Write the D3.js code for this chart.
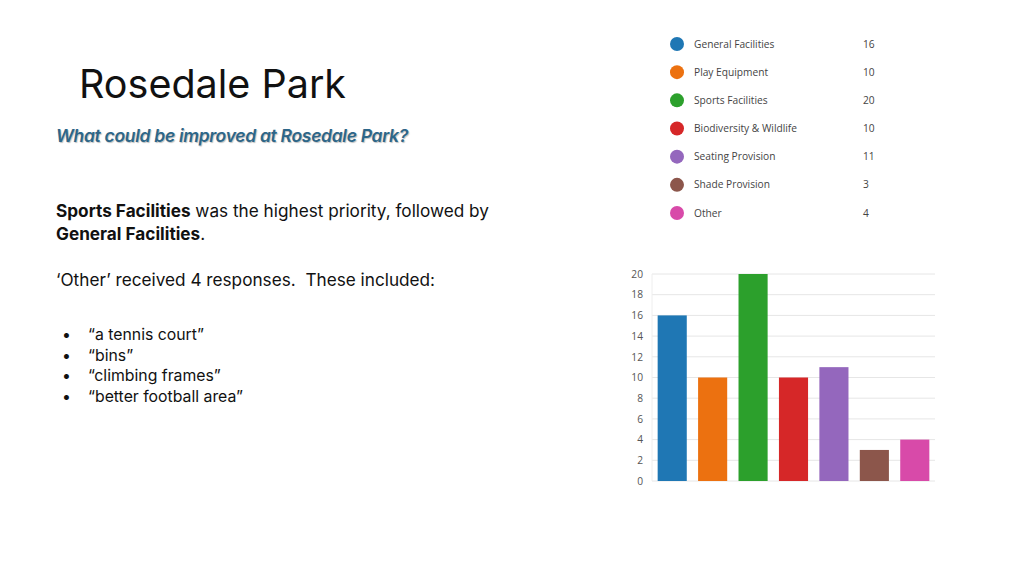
<!DOCTYPE html>
<html>
<head>
<meta charset="utf-8">
<script src="https://cdn.jsdelivr.net/npm/d3@7"></script>
<style>
  html, body { margin: 0; padding: 0; background: #fff; }
  svg { display: block; }
  text { white-space: pre; }
</style>
</head>
<body>
<svg id="slide"></svg>
<script>
// data
const categories = ['General Facilities', 'Play Equipment', 'Sports Facilities', 'Biodiversity & Wildlife', 'Seating Provision', 'Shade Provision', 'Other'];
const responses = [16, 10, 20, 10, 11, 3, 4];
const barColors = ['#1f77b4', '#ec7110', '#2ca02c', '#d62728', '#9467bd', '#8c564b', '#d84aa9'];
const yTicks = [0, 2, 4, 6, 8, 10, 12, 14, 16, 18, 20];
const otherReplies = ['“a tennis court”', '“bins”', '“climbing frames”', '“better football area”'];

const width = 1024, height = 576;
const svg = d3.select('#slide').attr('width', width).attr('height', height);
const font = 'Inter, "Liberation Sans", sans-serif';

// title + subtitle
svg.append('text')
  .attr('x', 79).attr('y', 98)
  .attr('font-family', font).attr('font-size', 39.5)
  .attr('fill', '#111')
  .text('Rosedale Park');

svg.append('text')
  .attr('x', 56).attr('y', 142)
  .attr('font-family', font).attr('font-size', 17.5)
  .attr('font-style', 'italic').attr('font-weight', 600)
  .attr('letter-spacing', -0.3)
  .attr('fill', '#2d6688')
  .style('text-shadow', '1px 1px 1px rgba(0,0,0,0.25)')
  .text('What could be improved at Rosedale Park?');

// body text
const body = svg.append('g').attr('font-family', font).attr('font-size', 17.2).attr('fill', '#111');
const l1 = body.append('text').attr('x', 56).attr('y', 217);
l1.append('tspan').attr('font-weight', 700).text('Sports Facilities');
l1.append('tspan').text(' was the highest priority, followed by');
const l2 = body.append('text').attr('x', 56).attr('y', 240);
l2.append('tspan').attr('font-weight', 700).text('General Facilities');
l2.append('tspan').text('.');
body.append('text').attr('x', 56).attr('y', 286)
  .text('‘Other’ received 4 responses.  These included:');

const bullets = body.append('g').attr('font-size', 15.8);
bullets.selectAll('text.b')
  .data(otherReplies)
  .join('text')
  .attr('class', 'b')
  .attr('x', 62).attr('y', (d, i) => 340 + i * 20.5)
  .text('•');
bullets.selectAll('text.r')
  .data(otherReplies)
  .join('text')
  .attr('class', 'r')
  .attr('x', 88).attr('y', (d, i) => 340 + i * 20.5)
  .text(d => d);

// legend
const legFont = '"Open Sans", "Noto Sans", sans-serif';
const legend = svg.append('g').attr('font-family', legFont).attr('font-size', 10.2).attr('fill', '#444');
const legRow = d3.scalePoint().domain(categories).range([44, 213]);
const rows = legend.selectAll('g')
  .data(categories)
  .join('g')
  .attr('transform', d => `translate(0, ${legRow(d)})`);
rows.append('circle').attr('cx', 677).attr('cy', 0).attr('r', 7)
  .attr('fill', (d, i) => barColors[i]);
rows.append('text').attr('x', 694).attr('dy', '0.35em').text(d => d);
rows.append('text').attr('x', 863).attr('dy', '0.35em').text((d, i) => responses[i]);

// bar chart
const x = d3.scaleBand().domain(categories).range([652, 935]).paddingInner(0.28).paddingOuter(0.14);
const y = d3.scaleLinear().domain([0, 20]).range([481, 274]);

const grid = svg.append('g');
grid.selectAll('line')
  .data(yTicks)
  .join('line')
  .attr('x1', 652).attr('x2', 935)
  .attr('y1', d => y(d)).attr('y2', d => y(d))
  .attr('stroke', '#e6e6e6').attr('stroke-width', 1);
grid.append('line')
  .attr('x1', 652).attr('x2', 652)
  .attr('y1', y(20)).attr('y2', y(0))
  .attr('stroke', '#eeeeee');

const yAxis = svg.append('g')
  .attr('transform', 'translate(652, 0)')
  .call(d3.axisLeft(y).tickValues(yTicks).tickSize(0).tickPadding(9));
yAxis.select('.domain').remove();
yAxis.selectAll('text')
  .attr('font-family', legFont).attr('font-size', 10.2).attr('fill', '#555');

svg.append('g').selectAll('rect')
  .data(responses)
  .join('rect')
  .attr('x', (d, i) => x(categories[i]))
  .attr('y', d => y(d))
  .attr('width', x.bandwidth())
  .attr('height', d => y(0) - y(d))
  .attr('fill', (d, i) => barColors[i]);
</script>
</body>
</html>
